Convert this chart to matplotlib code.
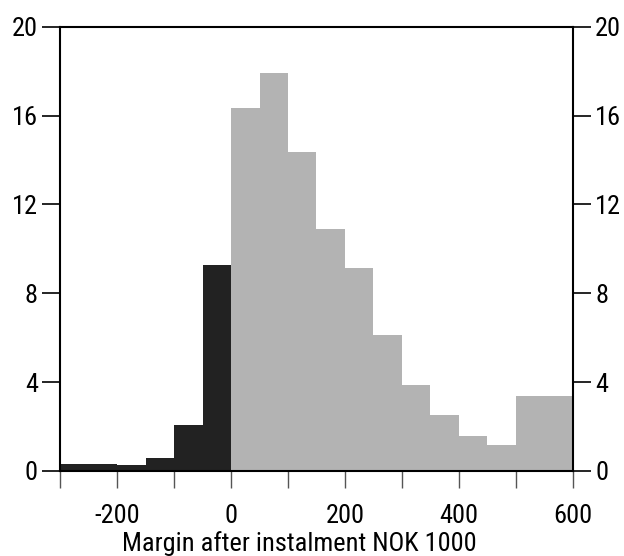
import numpy as np
import matplotlib.pyplot as plt
from matplotlib.ticker import MultipleLocator

plt.rcParams['font.family'] = ['Roboto Condensed', 'DejaVu Sans']
plt.rcParams['axes.unicode_minus'] = False

# bin edges (NOK 1000) and share in each bin
edges = [-300, -250, -200, -150, -100, -50, 0, 50, 100, 150, 200, 250, 300, 350, 400, 450, 500, 600]
share = [0.32, 0.32, 0.25, 0.59, 2.09, 9.25, 16.32, 17.9, 14.36, 10.88, 9.12, 6.1, 3.85, 2.52, 1.59, 1.17, 3.38]

left = np.array(edges[:-1])
widths = np.diff(edges)
colors = ['#222222' if l < 0 else '#b3b3b3' for l in left]

fig = plt.figure(figsize=(6.24, 5.56), dpi=100)
ax = fig.add_axes([0.0962, 0.1529, 0.822, 0.7991])
ax.bar(left, share, width=widths, align='edge', color=colors, edgecolor='none')

ax.set_xlim(-300, 600)
ax.set_ylim(0, 20)
ax.set_yticks([0, 4, 8, 12, 16, 20])
ax.set_xticks([-200, 0, 200, 400, 600])
ax.xaxis.set_minor_locator(MultipleLocator(100))

for s in ax.spines.values():
    s.set_linewidth(1.5)

ax.tick_params(axis='y', which='both', left=True, right=True, labelleft=True, labelright=True,
               direction='out', length=13, width=1.2, labelsize=19, pad=3)
ax.tick_params(axis='x', which='both', bottom=True, top=False, direction='out',
               length=12, width=1, labelsize=19, pad=12, color='#555555')

ax.set_xlabel('Margin after instalment NOK 1000', fontsize=19)
ax.xaxis.set_label_coords(0.466, -0.163)
ax.xaxis.label.set_va('center')

plt.savefig('out.png', dpi=100)
